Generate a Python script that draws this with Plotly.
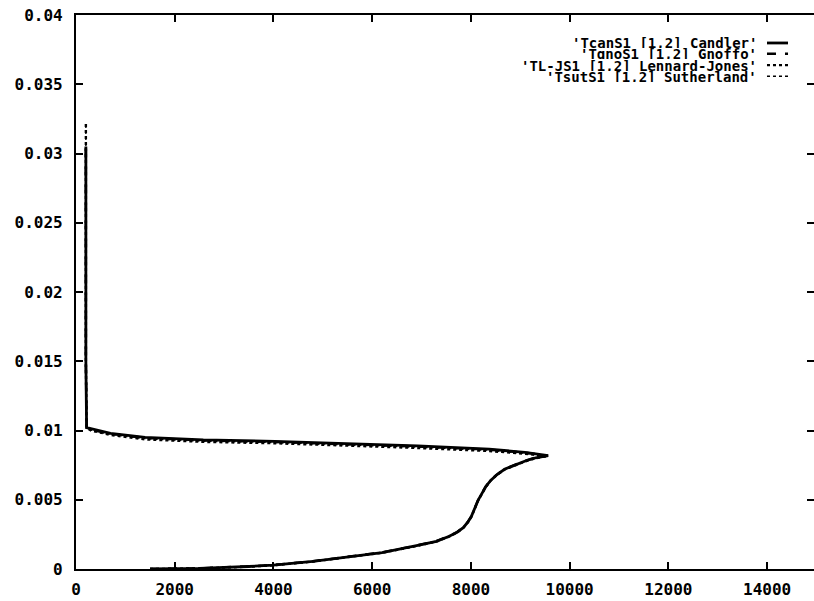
import plotly.graph_objects as go

# ---- data (temperature vs. distance) ----
candler_T = [1500, 2500, 3500, 4000, 4800, 5475, 6200, 6923, 7300, 7550, 7720, 7850, 7940,
             8010, 8080, 8150, 8230, 8300, 8400, 8515, 8680, 8877, 9100, 9312, 9565,
             9095, 8371, 6923, 5475, 4027, 2579, 1400, 700, 300, 215, 200, 200]
candler_Y = [0.0, 0.00005, 0.00018, 0.00028, 0.00055, 0.00087, 0.00118, 0.0017, 0.0020,
             0.00235, 0.00265, 0.0030, 0.0034, 0.0038, 0.0044, 0.0050, 0.0055, 0.00594,
             0.0064, 0.00677, 0.0072, 0.00748, 0.0078, 0.00803, 0.00818,
             0.00842, 0.00866, 0.00889, 0.00908, 0.00922, 0.00932, 0.0095, 0.0098, 0.0101,
             0.0102, 0.0150, 0.0305]

gnoffo_T = [1500, 2500, 3500, 4000, 4800, 5475, 6200, 6923, 7300, 7550, 7720, 7850, 7940,
            8010, 8080, 8150, 8230, 8300, 8400, 8515, 8680, 8877, 9100, 9312, 9560,
            9095, 8371, 6923, 5475, 4027, 2579, 1400, 700, 300, 215, 200, 200]
gnoffo_Y = [0.0, 0.00005, 0.00019, 0.00029, 0.00056, 0.00088, 0.0012, 0.00172, 0.00202,
            0.00237, 0.00267, 0.00302, 0.00342, 0.00382, 0.00442, 0.00502, 0.00552, 0.00596,
            0.00642, 0.00679, 0.00722, 0.0075, 0.00782, 0.00805, 0.00819,
            0.0084, 0.00862, 0.00884, 0.00903, 0.00917, 0.00928, 0.00946, 0.00976, 0.01005,
            0.0102, 0.0150, 0.0305]

lj_T = [1500, 2500, 3500, 4000, 4800, 5475, 6200, 6923, 7300, 7550, 7720, 7850, 7940,
        8010, 8080, 8150, 8230, 8300, 8400, 8515, 8680, 8877, 9100, 9312, 9550,
        9095, 8371, 6923, 5475, 4027, 2579, 1400, 700, 300, 215, 200, 200]
lj_Y = [0.0, 0.00004, 0.00017, 0.00027, 0.00054, 0.00086, 0.00117, 0.00168, 0.00198,
        0.00233, 0.00263, 0.00298, 0.00338, 0.00378, 0.00438, 0.00498, 0.00548, 0.00592,
        0.00638, 0.00675, 0.00718, 0.00745, 0.00777, 0.008, 0.00815,
        0.00832, 0.00852, 0.00874, 0.00893, 0.00908, 0.00918, 0.00936, 0.00968, 0.01,
        0.0102, 0.0150, 0.0323]

suth_T = [1500, 2500, 3500, 4000, 4800, 5475, 6200, 6923, 7300, 7550, 7720, 7850, 7940,
          8010, 8080, 8150, 8230, 8300, 8400, 8515, 8680, 8877, 9100, 9312, 9560,
          9095, 8371, 6923, 5475, 4027, 2579, 1400, 700, 300, 215, 200, 200]
suth_Y = [0.0, 0.00005, 0.00018, 0.00028, 0.00055, 0.00087, 0.00118, 0.0017, 0.002,
          0.00235, 0.00265, 0.003, 0.0034, 0.0038, 0.0044, 0.005, 0.0055, 0.00594,
          0.0064, 0.00677, 0.0072, 0.00748, 0.0078, 0.00802, 0.00817,
          0.00836, 0.00858, 0.0088, 0.00899, 0.00913, 0.00923, 0.00941, 0.00972, 0.01003,
          0.0102, 0.0150, 0.0320]

series_names = ["'TcanS1 [1,2] Candler'", "'TgnoS1 [1,2] Gnoffo'",
                "'TL-JS1 [1,2] Lennard-Jones'", "'TsutS1 [1,2] Sutherland'"]

x_ticks = [0, 2000, 4000, 6000, 8000, 10000, 12000, 14000]
x_ticklabels = ["0", "2000", "4000", "6000", "8000", "10000", "12000", "14000"]
y_ticks = [0, 0.005, 0.01, 0.015, 0.02, 0.025, 0.03, 0.035, 0.04]
y_ticklabels = ["0", "0.005", "0.01", "0.015", "0.02", "0.025", "0.03", "0.035", "0.04"]

FONT = "DejaVu Sans Mono"
series = [(candler_T, candler_Y), (gnoffo_T, gnoffo_Y), (lj_T, lj_Y), (suth_T, suth_Y)]
dashes = ["solid", "dash", "dot", "dot"]
widths = [2.8, 2.4, 2.4, 1.4]

fig = go.Figure()
for (tx, ty), nm, d, w in zip(series, series_names, dashes, widths):
    fig.add_trace(go.Scatter(x=tx, y=ty, mode="lines", name=nm,
                             line=dict(color="black", width=w, dash=d),
                             showlegend=False))

# empty trace that only anchors the right-hand tick axis
fig.add_trace(go.Scatter(x=[], y=[], yaxis="y2", mode="lines", showlegend=False,
                         hoverinfo="skip"))

# legend drawn gnuplot-style: right-aligned text, sample to the right
row_y = [0.9495, 0.9300, 0.9095, 0.8895]
for nm, d, w, yy in zip(series_names, dashes, widths, row_y):
    fig.add_annotation(x=0.9241, y=yy, xref="paper", yref="paper", text=nm,
                       showarrow=False, xanchor="right", yanchor="middle",
                       height=11, valign="middle", borderpad=0,
                       font=dict(family=FONT, size=14, color="black", weight="bold"))
    fig.add_shape(type="line", xref="paper", yref="paper", x0=0.9363, x1=0.9648,
                  y0=yy, y1=yy, line=dict(color="black", width=max(w, 1.6), dash=d))

tick_common = dict(showgrid=False, zeroline=False, ticks="inside", ticklen=7,
                   tickwidth=2, tickcolor="black", automargin=False,
                   ticklabeloverflow="allow",
                   tickfont=dict(family=FONT, size=16, color="black", weight="bold"))

fig.update_xaxes(range=[0, 14950], tickvals=x_ticks, ticktext=x_ticklabels,
                 ticklabelstandoff=5, showline=True, linecolor="black", linewidth=2.2,
                 mirror="ticks", **tick_common)
fig.update_yaxes(range=[0, 0.04], tickvals=y_ticks, ticktext=y_ticklabels,
                 ticklabelstandoff=8, showline=True, linecolor="black", linewidth=2.2,
                 mirror=False, **tick_common)
# right-hand ticks only (the right frame edge lies just outside the picture)
fig.update_layout(yaxis2=dict(overlaying="y", side="right", range=[0, 0.04],
                              tickvals=y_ticks, showticklabels=False, showline=False,
                              showgrid=False, zeroline=False, ticks="inside", ticklen=7,
                              tickwidth=2, tickcolor="black", automargin=False))

fig.update_layout(width=814, height=601, margin=dict(l=76, r=0, t=15, b=32),
                  paper_bgcolor="white", plot_bgcolor="white")

fig.write_html("out.html", config={"displayModeBar": False},
               post_script="document.body.style.margin='0';"
                           "document.body.style.overflow='hidden';")
